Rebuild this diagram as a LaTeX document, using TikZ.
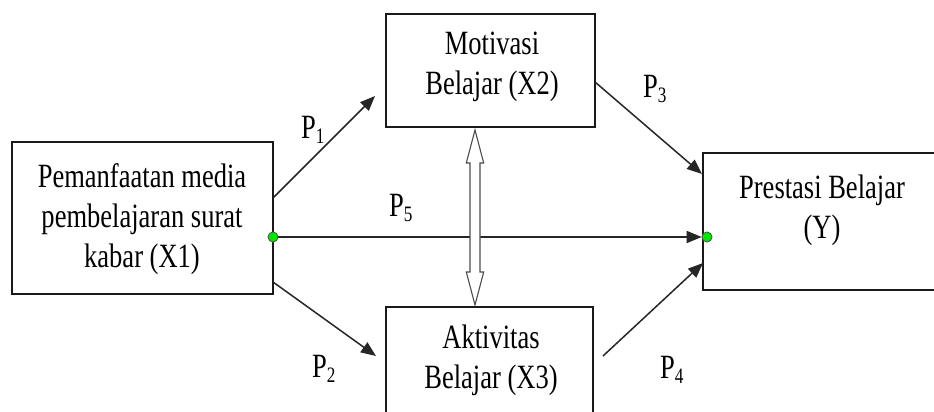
\documentclass[tikz,border=0pt]{standalone}
\usepackage{fontspec}
\setmainfont[FakeStretch=0.78]{Liberation Serif}
\usetikzlibrary{arrows.meta}
\definecolor{dotgreen}{RGB}{0,230,0}
\newcommand{\psub}[1]{P\raisebox{-5pt}{\fontsize{22}{22}\selectfont #1}}
\begin{document}
\begin{tikzpicture}[x=1pt,y=-1pt,
  box/.style={draw=black!90,line width=1.7pt,inner sep=0pt},
  txt/.style={font=\fontsize{34}{40}\selectfont,align=center,inner sep=0pt},
  plab/.style={font=\fontsize{34}{40}\selectfont,anchor=base west,inner sep=0pt},
  arr/.style={draw=black!85,line width=1.5pt,-{Triangle[length=15pt,width=12pt]}},
  dot/.style={circle,fill=dotgreen,draw=black!70,line width=0.6pt,inner sep=0pt,minimum size=10pt},
  dblarrow/.style={draw=black!70,line width=1.1pt,fill=white}]
\useasboundingbox (0,0) rectangle (934,412);
\clip (0,0) rectangle (934,412);
% boxes
\node[box,minimum width=261pt,minimum height=152pt] (x1) at (142.5,218) {};
\node[box,minimum width=209pt,minimum height=113pt] (x2) at (490.5,70.5) {};
\node[box,minimum width=207pt,minimum height=113pt] (x3) at (489.5,363.5) {};
\node[box,minimum width=238pt,minimum height=137pt] (y) at (822,221.5) {};
% texts
\node[txt] (x1t) at (142,219.5) {\strut Pemanfaatan media\\\strut pembelajaran surat\\\strut kabar (X1)};
\node[txt] (x2t) at (492,67) {\strut Motivasi\\\strut Belajar (X2)};
\node[txt] (x3t) at (491,360) {\strut Aktivitas\\\strut Belajar (X3)};
\node[txt] (yt) at (822,210.5) {\strut Prestasi Belajar\\\strut (Y)};
% arrow end points
\coordinate (p1s) at (273,198); \coordinate (p1e) at (375,96);
\coordinate (p2s) at (273,282); \coordinate (p2e) at (376,356);
\coordinate (p3s) at (595,82);  \coordinate (p3e) at (702,174);
\coordinate (p4s) at (603,356); \coordinate (p4e) at (703,263);
\draw[arr] (p1s) -- (p1e);
\draw[arr] (p2s) -- (p2e);
\draw[arr] (p3s) -- (p3e);
\draw[arr] (p4s) -- (p4e);
% direct path
\node[dot] (d1) at (273,237) {};
\node[dot] (d2) at (707,237) {};
\draw[arr] (d1) -- (d2);
\node[dot] at (d1) {};
\node[dot] at (d2) {};
% double arrow between X2 and X3
\draw[dblarrow] (475,130) -- (483.7,163) -- (480,163) -- (480,272) -- (483.7,272) -- (475,305)
  -- (466.3,272) -- (470,272) -- (470,163) -- (466.3,163) -- cycle;
% labels
\node[plab] (l1) at (301,138) {\psub{1}};
\node[plab] (l2) at (312,377) {\psub{2}};
\node[plab] (l3) at (643,97) {\psub{3}};
\node[plab] (l4) at (660,378) {\psub{4}};
\node[plab] (l5) at (389,216) {\psub{5}};
\end{tikzpicture}
\end{document}
